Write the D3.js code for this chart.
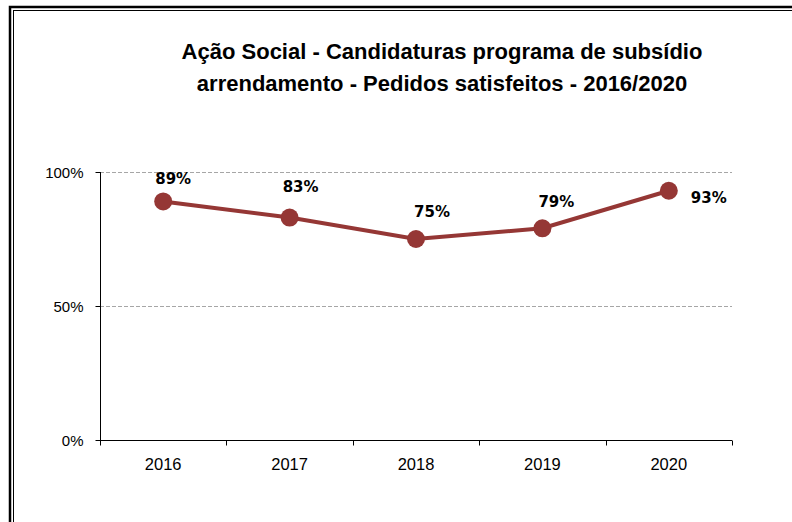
<!DOCTYPE html>
<html><head><meta charset="utf-8">
<script src="https://cdn.jsdelivr.net/npm/d3@7"></script>
<style>body{margin:0;background:#fff;} svg{display:block;}</style>
</head><body>
<svg id="chart" width="792" height="522"></svg>
<script>
const titleLines = ["Ação Social - Candidaturas programa de subsídio", "arrendamento - Pedidos satisfeitos - 2016/2020"];
const years = ["2016", "2017", "2018", "2019", "2020"];
const values = [0.89, 0.83, 0.75, 0.79, 0.93];
const yTicks = [0, 0.5, 1];
// manual data-label offsets (dx, dy from marker centre to label centre)
const labelOffsets = [[10, -23], [11, -31], [16, -28], [14, -27], [40, 7]];

const svg = d3.select("#chart");
// double frame
svg.append("rect").attr("x", 10).attr("y", 7).attr("width", 800).attr("height", 530)
  .attr("fill", "none").attr("stroke", "#000").attr("stroke-width", 2.5);
svg.append("rect").attr("x", 13.5).attr("y", 10.5).attr("width", 800).attr("height", 530)
  .attr("fill", "none").attr("stroke", "#000").attr("stroke-width", 1);

const x = d3.scaleBand().domain(years).range([100, 732]);
const y = d3.scaleLinear().domain([0, 1]).range([440, 172]);

// gridlines
svg.append("g").selectAll("line").data(yTicks.filter(d => d > 0)).join("line")
  .attr("x1", 100).attr("x2", 732).attr("y1", d => y(d) + 0.5).attr("y2", d => y(d) + 0.5)
  .attr("stroke", "#a6a6a6").attr("stroke-dasharray", "4,2").attr("stroke-width", 1);

const fontAxis = "'Liberation Sans', Arial, sans-serif";
const yAxis = svg.append("g").attr("transform", "translate(100.5,0)")
  .call(d3.axisLeft(y).tickValues(yTicks).tickFormat(d3.format(".0%")).tickSize(5).tickPadding(12));
yAxis.select(".domain").attr("stroke", "#000").attr("d", `M0,${y(1)}V${y(0)}`);
yAxis.selectAll("text").attr("font-family", fontAxis).attr("font-size", 15).attr("fill", "#000").attr("dy", "0.36em");

const xAxis = svg.append("g").attr("transform", `translate(0,${y(0)+0.5})`)
  .call(d3.axisBottom(x).tickSize(0).tickPadding(18));
xAxis.select(".domain").attr("stroke", "#000").attr("d", `M100,0H732`);
xAxis.selectAll("text").attr("font-family", fontAxis).attr("font-size", 16.5).attr("fill", "#000");
// band boundary ticks
const bounds = years.map(d => x(d)).concat([x.range()[1]]);
xAxis.append("g").selectAll("line").data(bounds).join("line")
  .attr("x1", d => Math.round(d) + 0.5).attr("x2", d => Math.round(d) + 0.5)
  .attr("y1", 0).attr("y2", 5).attr("stroke", "#000");

const cx = d => x(d) + x.bandwidth() / 2;
const color = "#953735";
svg.append("path").datum(values)
  .attr("d", d3.line().x((d, i) => cx(years[i])).y(d => y(d)))
  .attr("fill", "none").attr("stroke", color).attr("stroke-width", 4);
svg.append("g").selectAll("circle").data(values).join("circle")
  .attr("cx", (d, i) => cx(years[i])).attr("cy", d => y(d)).attr("r", 9).attr("fill", color);

svg.append("g").selectAll("text").data(values).join("text")
  .attr("x", (d, i) => cx(years[i]) + labelOffsets[i][0])
  .attr("y", (d, i) => y(d) + labelOffsets[i][1] + 5.5)
  .attr("text-anchor", "middle")
  .attr("font-family", "'DejaVu Sans', sans-serif").attr("font-weight", "bold").attr("font-size", 15)
  .attr("fill", "#000")
  .text(d => d3.format(".0%")(d));

svg.append("g").selectAll("text").data(titleLines).join("text")
  .attr("x", 442).attr("y", (d, i) => 59 + i * 32)
  .attr("text-anchor", "middle")
  .attr("font-family", "'Liberation Sans', Arial, sans-serif").attr("font-weight", "bold").attr("font-size", 22)
  .attr("fill", "#000")
  .text(d => d);
</script>
</body></html>
